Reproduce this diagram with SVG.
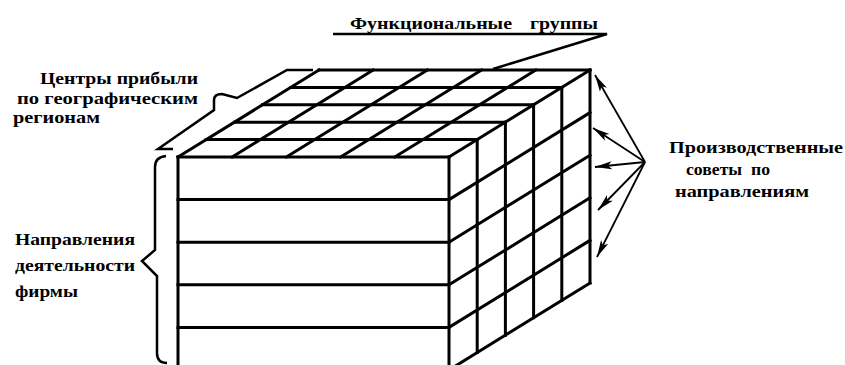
<svg xmlns="http://www.w3.org/2000/svg" width="845" height="365" viewBox="0 0 845 365">
<defs>
<style>
.e{stroke:#000;stroke-width:3;fill:none;stroke-linecap:square}
.b{stroke:#000;stroke-width:2.5;fill:none;stroke-linejoin:miter}
.a{stroke:#000;stroke-width:1.8;fill:none}
text{font-family:"Liberation Serif","DejaVu Serif","Times New Roman",serif;font-weight:bold;font-size:17px;fill:#000}
</style>
<marker id="ah" markerUnits="userSpaceOnUse" markerWidth="18" markerHeight="10" refX="17" refY="5" orient="auto">
<path d="M0,1 L17,5 L0,9 L4,5 z" fill="#000"/>
</marker>
</defs>
<rect width="845" height="365" fill="#fff"/>
<g id="cube">
<g id="top-face">
<path class="e" d="M319,70 H590 M290.8,87.4 H561.8 M262.6,104.8 H533.6 M234.4,122.2 H505.4 M206.2,139.6 H477.2 M178,157 H449"/>
<path class="e" d="M178,157 L319,70 M232.2,157 L373.2,70 M286.4,157 L427.4,70 M340.6,157 L481.6,70 M394.8,157 L535.8,70 M449,157 L590,70"/>
</g>
<g id="front-face">
<path class="e" d="M178,157 V370 M449,157 V370"/>
<path class="e" d="M178,199.6 H449 M178,242.2 H449 M178,284.8 H449 M178,327.4 H449"/>
</g>
<g id="right-face">
<path class="e" d="M477.2,139.6 V352.6 M505.4,122.2 V335.2 M533.6,104.8 V317.8 M561.8,87.4 V300.4 M590,70 V283"/>
<path class="e" d="M449,199.6 L590,112.6 M449,242.2 L590,155.2 M449,284.8 L590,197.8 M449,327.4 L590,240.4 M449,370 L590,283"/>
</g>
</g>
<g id="connectors">
<path id="brace-top" class="b" d="M313,70 L287,70 L237,98 L222,94 Q214,94 214,100 L214,110 L158,149 L173,149"/>
<path id="brace-left" class="b" d="M166,156 Q155,157 155,167 L155,250 L142,261 L157,276 L157,353 Q157,363 167,363"/>
<path id="leader-top" class="b" d="M333,34 H607 L493,69"/>
<g id="arrows">
<line class="a" x1="645" y1="162" x2="595" y2="75" marker-end="url(#ah)"/>
<line class="a" x1="645" y1="162" x2="593" y2="128" marker-end="url(#ah)"/>
<line class="a" x1="645" y1="162" x2="595" y2="167" marker-end="url(#ah)"/>
<line class="a" x1="645" y1="162" x2="598" y2="210" marker-end="url(#ah)"/>
<line class="a" x1="645" y1="162" x2="597" y2="257" marker-end="url(#ah)"/>
</g>
</g>
<g id="label-functional">
<text x="350" y="29" textLength="162" lengthAdjust="spacingAndGlyphs">Функциональные</text>
<text x="530" y="29" textLength="68" lengthAdjust="spacingAndGlyphs">группы</text>
</g>
<g id="label-profit">
<text x="40" y="84" textLength="158" lengthAdjust="spacingAndGlyphs">Центры прибыли</text>
<text x="17" y="104" textLength="181" lengthAdjust="spacingAndGlyphs">по географическим</text>
<text x="13" y="123" textLength="87" lengthAdjust="spacingAndGlyphs">регионам</text>
</g>
<g id="label-directions">
<text x="15" y="245" textLength="120" lengthAdjust="spacingAndGlyphs">Направления</text>
<text x="15" y="271" textLength="120" lengthAdjust="spacingAndGlyphs">деятельности</text>
<text x="15" y="297" textLength="63" lengthAdjust="spacingAndGlyphs">фирмы</text>
</g>
<g id="label-councils">
<text x="669" y="153" textLength="174" lengthAdjust="spacingAndGlyphs">Производственные</text>
<text x="686" y="175" textLength="84" lengthAdjust="spacingAndGlyphs" xml:space="preserve">советы  по</text>
<text x="675" y="197" textLength="134" lengthAdjust="spacingAndGlyphs">направлениям</text>
</g>
</svg>
